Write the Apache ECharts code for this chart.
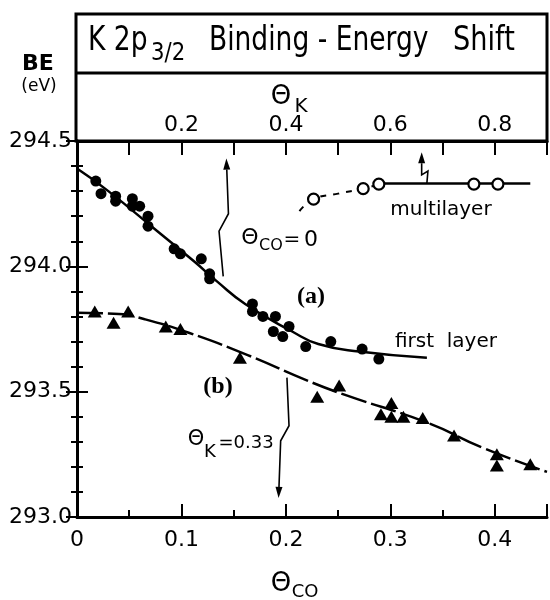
<!DOCTYPE html>
<html>
<head>
<meta charset="utf-8">
<script src="https://cdn.jsdelivr.net/npm/echarts@6/dist/echarts.min.js"></script>
<style>
  html, body { margin: 0; padding: 0; background: #fff; }
  #chart { width: 550px; height: 600px; }
</style>
</head>
<body>
<div id="chart"></div>
<script>
// first layer, theta_CO = 0 (filled circles) [theta_CO, BE]
const firstLayer = [
  [0.018, 294.34], [0.023, 294.29], [0.037, 294.28], [0.037, 294.26], [0.053, 294.27],
  [0.053, 294.24], [0.060, 294.24], [0.068, 294.20], [0.068, 294.16], [0.093, 294.07],
  [0.099, 294.05], [0.119, 294.03], [0.127, 293.97], [0.127, 293.95], [0.168, 293.85],
  [0.168, 293.82], [0.178, 293.80], [0.190, 293.80], [0.188, 293.74], [0.203, 293.76],
  [0.197, 293.72], [0.219, 293.68], [0.243, 293.70], [0.273, 293.67], [0.289, 293.63]
]
const firstLayerFit = [
  [0, 294.39], [0.03, 294.30], [0.077, 294.14], [0.112, 294.02], [0.134, 293.94],
  [0.161, 293.85], [0.206, 293.74], [0.231, 293.69], [0.27, 293.66], [0.335, 293.635]
]

// theta_K = 0.33 (filled triangles)
const kLayer = [
  [0.017, 293.82], [0.035, 293.775], [0.049, 293.82], [0.085, 293.76], [0.099, 293.75],
  [0.156, 293.635], [0.230, 293.48], [0.251, 293.525], [0.291, 293.41], [0.301, 293.455],
  [0.301, 293.40], [0.3125, 293.40], [0.331, 293.395], [0.361, 293.325], [0.402, 293.25],
  [0.402, 293.205], [0.434, 293.21]
]
const kLayerFit = [
  [0, 293.815], [0.04, 293.81], [0.064, 293.79], [0.107, 293.735], [0.164, 293.645],
  [0.22, 293.545], [0.256, 293.488], [0.336, 293.375], [0.389, 293.275], [0.45, 293.18]
]

// multilayer (open circles)
const multilayer = [[0.2265, 294.268], [0.274, 294.31], [0.289, 294.328], [0.380, 294.328], [0.403, 294.328]]
const multilayerDashed = [[0.213, 294.22], [0.2265, 294.268], [0.25, 294.29], [0.274, 294.31], [0.289, 294.328]]
const multilayerSolid = [[0.289, 294.33], [0.434, 294.33]]

// tick labels
const bottomLabels = [0, 0.1, 0.2, 0.3, 0.4]
const topLabels = [0.2, 0.4, 0.6, 0.8]
const beLabels = [293.0, 293.5, 294.0, 294.5]

// arrows with break mark, base -> tip, in data coords
const arrowCO = [[0.140, 293.96], [0.136, 294.14], [0.145, 294.21], [0.143, 294.43]]
const arrowK = [[0.201, 293.556], [0.203, 293.364], [0.195, 293.304], [0.193, 293.076]]
const arrowMulti = [[0.335, 294.332], [0.336, 294.38], [0.330, 294.365], [0.330, 294.455]]

const FONT = "'DejaVu Sans'"
const BLACK = '#000'

const has = (list, v) => list.some((l) => Math.abs(l - v) < 1e-6)

const chart = echarts.init(document.getElementById('chart'))

const tickStyle = { color: BLACK, width: 2 }
const lineStyle = { color: BLACK, width: 3 }
const labelFont = { color: BLACK, fontFamily: FONT, fontSize: 22 }

chart.setOption({
  animation: false,
  grid: { left: 77, right: 3, top: 141, bottom: 83 },
  xAxis: [
    {
      type: 'value', position: 'bottom', min: 0, max: 0.45, interval: 0.05,
      axisLine: { lineStyle },
      axisTick: { inside: true, length: 7, lineStyle: tickStyle },
      splitLine: { show: false },
      axisLabel: {
        margin: 12, ...labelFont,
        formatter: (v) => (has(bottomLabels, v) ? (v === 0 ? '0' : v.toFixed(1)) : '')
      }
    },
    {
      type: 'value', position: 'top', min: 0, max: 0.9, interval: 0.1,
      axisLine: { lineStyle },
      axisTick: { inside: true, length: 14, lineStyle: tickStyle },
      splitLine: { show: false },
      axisLabel: {
        margin: 5, ...labelFont,
        formatter: (v) => (has(topLabels, v) ? v.toFixed(1) : '')
      }
    },
    {
      type: 'value', position: 'bottom', min: 0, max: 0.45, interval: 0.1,
      axisLine: { show: false },
      axisTick: { inside: true, length: 13, lineStyle: tickStyle },
      splitLine: { show: false },
      axisLabel: { show: false }
    }
  ],
  yAxis: [
    {
      type: 'value', position: 'left', min: 293, max: 294.5, interval: 0.5,
      axisLine: { lineStyle },
      axisTick: { inside: true, length: 11, lineStyle: tickStyle },
      minorTick: { show: true, splitNumber: 5, length: 6, lineStyle: tickStyle },
      splitLine: { show: false },
      minorSplitLine: { show: false },
      axisLabel: {
        margin: 5, ...labelFont,
        formatter: (v) => (has(beLabels, v) ? v.toFixed(1) : '')
      }
    },
    {
      type: 'value', position: 'right', min: 293, max: 294.5, interval: 0.5,
      axisLine: { lineStyle },
      axisTick: { inside: true, length: 11, lineStyle: tickStyle },
      minorTick: { show: true, splitNumber: 5, length: 6, lineStyle: tickStyle },
      splitLine: { show: false },
      minorSplitLine: { show: false },
      axisLabel: { show: false }
    }
  ],
  series: [
    {
      type: 'line', data: firstLayerFit, smooth: true, symbol: 'none', silent: true,
      lineStyle: { color: BLACK, width: 2.5 }
    },
    {
      type: 'line', data: kLayerFit, smooth: true, symbol: 'none', silent: true,
      lineStyle: { color: BLACK, width: 2.5, type: [26, 5] }
    },
    {
      type: 'line', data: multilayerDashed, smooth: true, symbol: 'none', silent: true,
      lineStyle: { color: BLACK, width: 2, type: [6, 7] }
    },
    {
      type: 'line', data: multilayerSolid, symbol: 'none', silent: true,
      lineStyle: { color: BLACK, width: 2.5 }
    },
    {
      type: 'scatter', data: firstLayer, symbol: 'circle', symbolSize: 11, z: 5,
      itemStyle: { color: BLACK, opacity: 1 }
    },
    {
      type: 'scatter', data: kLayer, symbol: 'triangle', symbolSize: [14, 12], z: 5,
      itemStyle: { color: BLACK, opacity: 1 }
    },
    {
      type: 'scatter', data: multilayer, symbol: 'circle', symbolSize: 11, z: 5,
      itemStyle: { color: '#fff', borderColor: BLACK, borderWidth: 2.2, opacity: 1 }
    }
  ]
})

// plain text helper
function text(str, x, y, size, opts = {}) {
  return {
    type: 'text', x, y, scaleX: opts.scaleX || 1, silent: true, z: 10,
    style: {
      text: str, x: 0, y: 0, fill: BLACK,
      font: `${opts.weight || 'normal'} ${size}px ${opts.family || FONT}`,
      align: opts.align || 'center', textAlign: opts.align || 'center',
      verticalAlign: 'middle', textVerticalAlign: 'middle'
    }
  }
}

// arrow with break mark, tip at the last point
function arrow(path) {
  const pts = path.map((p) => chart.convertToPixel({ xAxisIndex: 0, yAxisIndex: 0 }, p))
  const tip = pts[pts.length - 1]
  const prev = pts[pts.length - 2]
  const dx = tip[0] - prev[0]
  const dy = tip[1] - prev[1]
  const len = Math.hypot(dx, dy)
  const ux = dx / len
  const uy = dy / len
  const hl = 11
  const hw = 3.5
  const bx = tip[0] - ux * hl
  const by = tip[1] - uy * hl
  return [
    {
      type: 'polyline', silent: true, z: 10,
      shape: { points: pts.slice(0, -1).concat([[bx, by]]) },
      style: { stroke: BLACK, lineWidth: 1.6, fill: null }
    },
    {
      type: 'polygon', silent: true, z: 10,
      shape: { points: [tip, [bx - uy * hw, by + ux * hw], [bx + uy * hw, by - ux * hw]] },
      style: { fill: BLACK }
    }
  ]
}

const graphics = [
  // title box
  {
    type: 'rect', silent: true,
    shape: { x: 76, y: 14, width: 471, height: 127 },
    style: { stroke: BLACK, lineWidth: 3, fill: null }
  },
  {
    type: 'line', silent: true,
    shape: { x1: 76, y1: 73, x2: 547, y2: 73 },
    style: { stroke: BLACK, lineWidth: 3 }
  },
  text('K 2p', 88, 41, 34, { align: 'left', scaleX: 0.78 }),
  text('3/2', 151, 53, 25, { align: 'left', scaleX: 0.85 }),
  text('Binding - Energy', 209, 41, 34, { align: 'left', scaleX: 0.78 }),
  text('Shift', 453, 41, 34, { align: 'left', scaleX: 0.8 }),

  // axis names
  text('BE', 38, 64, 22, { weight: 'bold' }),
  text('(eV)', 39, 87, 17),
  text('Θ', 281, 97, 26),
  text('K', 301, 107, 20),
  text('Θ', 281, 584, 26),
  text('CO', 305, 592, 18),

  // annotations
  text('Θ', 250, 238, 22),
  text('CO', 271, 246, 16),
  text('=', 292, 240, 20),
  text('0', 311, 240, 22),
  text('(a)', 311, 297, 24, { weight: 'bold', family: "'Liberation Serif'" }),
  text('multilayer', 441, 210, 20),
  text('first  layer', 446, 342, 20),
  text('(b)', 218, 387, 24, { weight: 'bold', family: "'Liberation Serif'" }),
  text('Θ', 196, 440, 21),
  text('K', 210, 452, 18),
  text('=0.33', 246, 443, 18),

  ...arrow(arrowCO),
  ...arrow(arrowK),
  ...arrow(arrowMulti)
]

chart.setOption({ graphic: graphics })
</script>
</body>
</html>
